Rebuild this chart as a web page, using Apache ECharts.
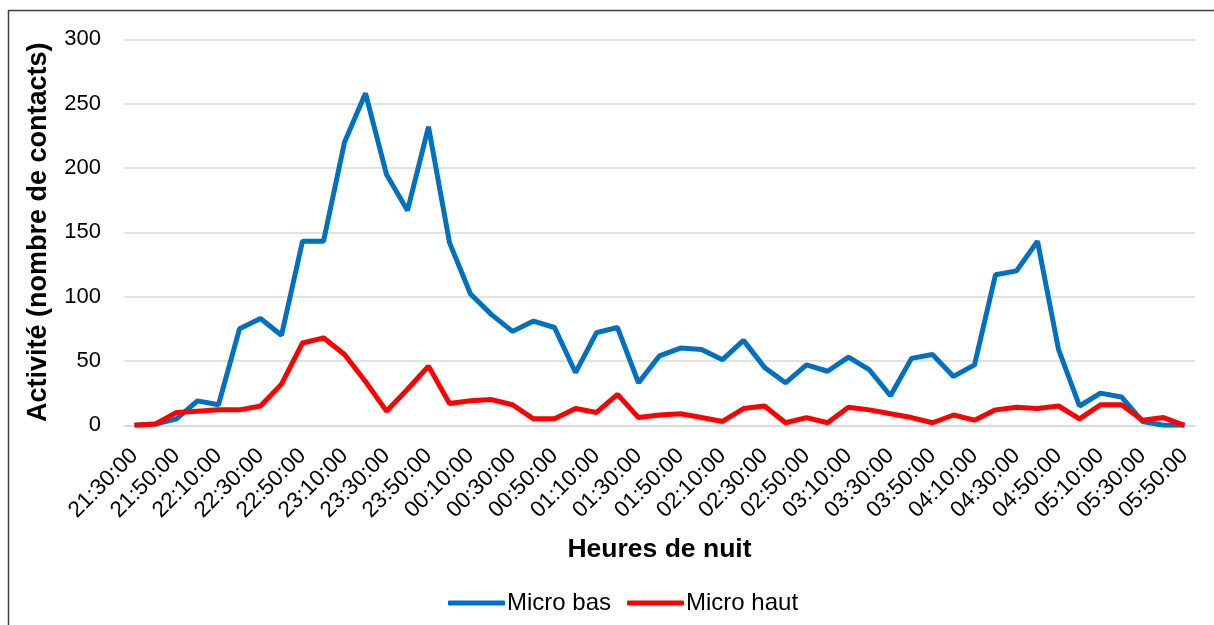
<!DOCTYPE html>
<html>
<head>
<meta charset="utf-8">
<script src="https://cdn.jsdelivr.net/npm/echarts@6/dist/echarts.min.js"></script>
<style>html,body{margin:0;padding:0;background:#fff;}#c{width:1214px;height:625px;}</style>
</head>
<body>
<div id="c"></div>
<script>
const categories = ["21:30:00","21:40:00","21:50:00","22:00:00","22:10:00","22:20:00","22:30:00","22:40:00","22:50:00","23:00:00",
"23:10:00","23:20:00","23:30:00","23:40:00","23:50:00","00:00:00","00:10:00","00:20:00","00:30:00","00:40:00",
"00:50:00","01:00:00","01:10:00","01:20:00","01:30:00","01:40:00","01:50:00","02:00:00","02:10:00","02:20:00",
"02:30:00","02:40:00","02:50:00","03:00:00","03:10:00","03:20:00","03:30:00","03:40:00","03:50:00","04:00:00",
"04:10:00","04:20:00","04:30:00","04:40:00","04:50:00","05:00:00","05:10:00","05:20:00","05:30:00","05:40:00","05:50:00"];
const microBas = [0,1,5,19,16,75,83,70,143,143,
220,258,195,167,232,142,102,86,73,81,
76,41,72,76,33,54,60,59,51,66,
45,33,47,42,53,43,23,52,55,38,
47,117,120,143,59,15,25,22,3,0,0];
const microHaut = [0,1,10,11,12,12,15,32,64,68,
55,34,11,28,46,17,19,20,16,5,
5,13,10,24,6,8,9,6,3,13,
15,2,6,2,14,12,9,6,2,8,
4,12,14,13,15,5,16,16,4,6,0];
const yTicks = {min:0, max:300, interval:50};
const seriesNames = ["Micro bas","Micro haut"];

const chart = echarts.init(document.getElementById('c'));
const font = 'Liberation Sans, Arial, sans-serif';
chart.setOption({
  backgroundColor:'#fff',
  animation:false,
  grid:{left:124, right:19, top:39.3, bottom:199.7},
  legend:{
    data:seriesNames, left:443, top:586, itemWidth:57, itemHeight:5, itemGap:16, icon:'roundRect',
    textStyle:{fontFamily:font, fontSize:24, color:'#000', padding:[0,0,0,-3]}
  },
  xAxis:{
    type:'category', data:categories, boundaryGap:true,
    name:'Heures de nuit', nameLocation:'middle', nameGap:110.5,
    nameTextStyle:{fontFamily:font, fontSize:26.5, fontWeight:'bold', color:'#000'},
    axisLine:{lineStyle:{color:'#d9d9d9', width:1.5}},
    axisTick:{show:false},
    axisLabel:{interval:1, rotate:45, fontFamily:font, fontSize:22.5, color:'#000', margin:27}
  },
  yAxis:{
    type:'value', min:yTicks.min, max:yTicks.max, interval:yTicks.interval,
    name:'Activité (nombre de contacts)', nameLocation:'middle', nameGap:72,
    nameTextStyle:{fontFamily:font, fontSize:27, fontWeight:'bold', color:'#000'},
    axisLine:{show:false}, axisTick:{show:false},
    axisLabel:{fontFamily:font, fontSize:22, color:'#000', margin:23},
    splitLine:{lineStyle:{color:'#d9d9d9', width:1.5}}
  },
  series:[
    {name:seriesNames[0], type:'line', data:microBas, symbol:'none', lineStyle:{color:'#0070c0', width:5}, itemStyle:{color:'#0070c0'}, z:2},
    {name:seriesNames[1], type:'line', data:microHaut, symbol:'none', lineStyle:{color:'#ff0000', width:5}, itemStyle:{color:'#ff0000'}, z:3}
  ],
  graphic:[{
    type:'polyline', silent:true,
    shape:{points:[[8.5,625],[8.5,10.5],[1214,10.5]]},
    style:{stroke:'#404040', lineWidth:1.5, fill:null}
  }]
});
</script>
</body>
</html>
